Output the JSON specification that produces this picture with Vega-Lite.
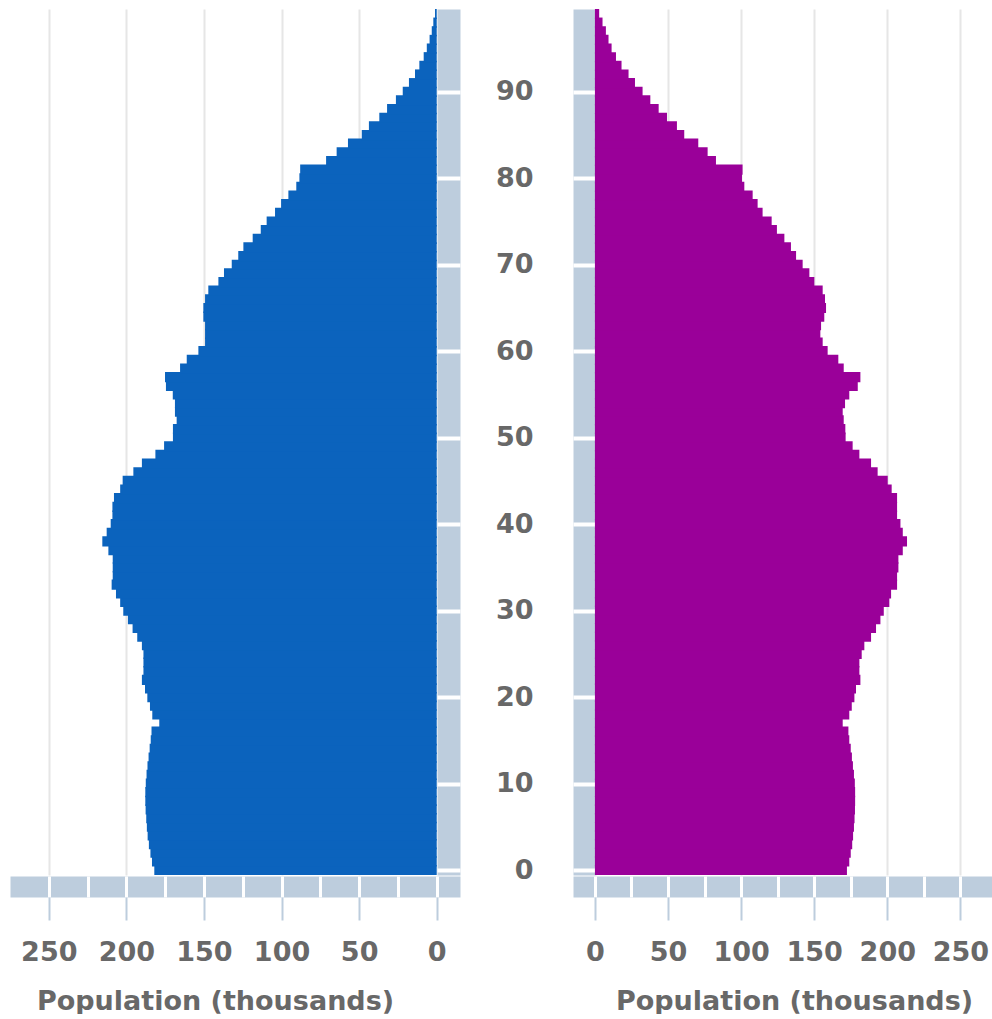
{
  "$schema": "https://vega.github.io/schema/vega-lite/v6.json",
  "padding": {"left": 10, "top": 9, "right": 0, "bottom": 0},
  "background": "white",
  "config": {
    "view": {"stroke": null},
    "font": "DejaVu Sans",
    "axis": {"labelFont": "DejaVu Sans", "titleFont": "DejaVu Sans"}
  },
  "datasets": {
    "pop": [
      {"age":0,"sex":"M","pop":182},{"age":1,"sex":"M","pop":183.5},{"age":2,"sex":"M","pop":184.5},{"age":3,"sex":"M","pop":185.5},{"age":4,"sex":"M","pop":186.3},{"age":5,"sex":"M","pop":186.8},{"age":6,"sex":"M","pop":187.2},{"age":7,"sex":"M","pop":187.6},{"age":8,"sex":"M","pop":187.8},{"age":9,"sex":"M","pop":187.8},
      {"age":10,"sex":"M","pop":187.5},{"age":11,"sex":"M","pop":187},{"age":12,"sex":"M","pop":186.4},{"age":13,"sex":"M","pop":185.7},{"age":14,"sex":"M","pop":185},{"age":15,"sex":"M","pop":184.3},{"age":16,"sex":"M","pop":183.8},{"age":17,"sex":"M","pop":178.8},{"age":18,"sex":"M","pop":183.3},{"age":19,"sex":"M","pop":184.8},
      {"age":20,"sex":"M","pop":186.5},{"age":21,"sex":"M","pop":188},{"age":22,"sex":"M","pop":190},{"age":23,"sex":"M","pop":189},{"age":24,"sex":"M","pop":189},{"age":25,"sex":"M","pop":189},{"age":26,"sex":"M","pop":190},{"age":27,"sex":"M","pop":193},{"age":28,"sex":"M","pop":196},{"age":29,"sex":"M","pop":199},
      {"age":30,"sex":"M","pop":202},{"age":31,"sex":"M","pop":204},{"age":32,"sex":"M","pop":206.7},{"age":33,"sex":"M","pop":209.5},{"age":34,"sex":"M","pop":208.8},{"age":35,"sex":"M","pop":208.8},{"age":36,"sex":"M","pop":208.8},{"age":37,"sex":"M","pop":211.6},{"age":38,"sex":"M","pop":215.5},{"age":39,"sex":"M","pop":212.7},
      {"age":40,"sex":"M","pop":210.1},{"age":41,"sex":"M","pop":209},{"age":42,"sex":"M","pop":209},{"age":43,"sex":"M","pop":208},{"age":44,"sex":"M","pop":204},{"age":45,"sex":"M","pop":202.4},{"age":46,"sex":"M","pop":195.5},{"age":47,"sex":"M","pop":190},{"age":48,"sex":"M","pop":181.3},{"age":49,"sex":"M","pop":175.7},
      {"age":50,"sex":"M","pop":170},{"age":51,"sex":"M","pop":170},{"age":52,"sex":"M","pop":167.6},{"age":53,"sex":"M","pop":168.7},{"age":54,"sex":"M","pop":168.7},{"age":55,"sex":"M","pop":170.1},{"age":56,"sex":"M","pop":174.5},{"age":57,"sex":"M","pop":175.1},{"age":58,"sex":"M","pop":165.4},{"age":59,"sex":"M","pop":161.1},
      {"age":60,"sex":"M","pop":153.6},{"age":61,"sex":"M","pop":149.3},{"age":62,"sex":"M","pop":149.3},{"age":63,"sex":"M","pop":149.3},{"age":64,"sex":"M","pop":150.4},{"age":65,"sex":"M","pop":150.4},{"age":66,"sex":"M","pop":149.3},{"age":67,"sex":"M","pop":147.2},{"age":68,"sex":"M","pop":140.7},{"age":69,"sex":"M","pop":137.1},
      {"age":70,"sex":"M","pop":132.1},{"age":71,"sex":"M","pop":127.9},{"age":72,"sex":"M","pop":124.6},{"age":73,"sex":"M","pop":118.6},{"age":74,"sex":"M","pop":113.4},{"age":75,"sex":"M","pop":109.6},{"age":76,"sex":"M","pop":104.2},{"age":77,"sex":"M","pop":100.3},{"age":78,"sex":"M","pop":95.6},{"age":79,"sex":"M","pop":90.5},
      {"age":80,"sex":"M","pop":88.5},{"age":81,"sex":"M","pop":88},{"age":82,"sex":"M","pop":71.3},{"age":83,"sex":"M","pop":64.5},{"age":84,"sex":"M","pop":57.2},{"age":85,"sex":"M","pop":48.3},{"age":86,"sex":"M","pop":43.7},{"age":87,"sex":"M","pop":37},{"age":88,"sex":"M","pop":32},{"age":89,"sex":"M","pop":26.3},
      {"age":90,"sex":"M","pop":21.9},{"age":91,"sex":"M","pop":17.9},{"age":92,"sex":"M","pop":14},{"age":93,"sex":"M","pop":11.2},{"age":94,"sex":"M","pop":8.4},{"age":95,"sex":"M","pop":6.4},{"age":96,"sex":"M","pop":4.6},{"age":97,"sex":"M","pop":3.2},{"age":98,"sex":"M","pop":2.2},{"age":99,"sex":"M","pop":1.1},
      {"age":0,"sex":"F","pop":172.4},{"age":1,"sex":"F","pop":174},{"age":2,"sex":"F","pop":175},{"age":3,"sex":"F","pop":176},{"age":4,"sex":"F","pop":176.6},{"age":5,"sex":"F","pop":177.2},{"age":6,"sex":"F","pop":177.6},{"age":7,"sex":"F","pop":177.9},{"age":8,"sex":"F","pop":178},{"age":9,"sex":"F","pop":178},
      {"age":10,"sex":"F","pop":177.8},{"age":11,"sex":"F","pop":177.2},{"age":12,"sex":"F","pop":176.5},{"age":13,"sex":"F","pop":175.8},{"age":14,"sex":"F","pop":175},{"age":15,"sex":"F","pop":174},{"age":16,"sex":"F","pop":173.4},{"age":17,"sex":"F","pop":169.5},{"age":18,"sex":"F","pop":174},{"age":19,"sex":"F","pop":175.7},
      {"age":20,"sex":"F","pop":177.5},{"age":21,"sex":"F","pop":178.6},{"age":22,"sex":"F","pop":181.6},{"age":23,"sex":"F","pop":180.9},{"age":24,"sex":"F","pop":180.9},{"age":25,"sex":"F","pop":182.5},{"age":26,"sex":"F","pop":184.3},{"age":27,"sex":"F","pop":188.9},{"age":28,"sex":"F","pop":192.3},{"age":29,"sex":"F","pop":195.3},
      {"age":30,"sex":"F","pop":197.6},{"age":31,"sex":"F","pop":201.4},{"age":32,"sex":"F","pop":202.6},{"age":33,"sex":"F","pop":206.7},{"age":34,"sex":"F","pop":206.7},{"age":35,"sex":"F","pop":207.6},{"age":36,"sex":"F","pop":207.6},{"age":37,"sex":"F","pop":210.6},{"age":38,"sex":"F","pop":213.5},{"age":39,"sex":"F","pop":210.6},
      {"age":40,"sex":"F","pop":209},{"age":41,"sex":"F","pop":206.7},{"age":42,"sex":"F","pop":206.7},{"age":43,"sex":"F","pop":206.7},{"age":44,"sex":"F","pop":203},{"age":45,"sex":"F","pop":200.3},{"age":46,"sex":"F","pop":193.4},{"age":47,"sex":"F","pop":188.9},{"age":48,"sex":"F","pop":180.9},{"age":49,"sex":"F","pop":176.3},
      {"age":50,"sex":"F","pop":171.5},{"age":51,"sex":"F","pop":171.3},{"age":52,"sex":"F","pop":170.2},{"age":53,"sex":"F","pop":169.5},{"age":54,"sex":"F","pop":171.1},{"age":55,"sex":"F","pop":174},{"age":56,"sex":"F","pop":179.8},{"age":57,"sex":"F","pop":181.6},{"age":58,"sex":"F","pop":170.2},{"age":59,"sex":"F","pop":166.5},
      {"age":60,"sex":"F","pop":159.2},{"age":61,"sex":"F","pop":155.8},{"age":62,"sex":"F","pop":154.2},{"age":63,"sex":"F","pop":154.7},{"age":64,"sex":"F","pop":156.9},{"age":65,"sex":"F","pop":158.1},{"age":66,"sex":"F","pop":157.4},{"age":67,"sex":"F","pop":155.8},{"age":68,"sex":"F","pop":150.1},{"age":69,"sex":"F","pop":146.7},
      {"age":70,"sex":"F","pop":142.1},{"age":71,"sex":"F","pop":137.6},{"age":72,"sex":"F","pop":134.1},{"age":73,"sex":"F","pop":129.6},{"age":74,"sex":"F","pop":124.5},{"age":75,"sex":"F","pop":120.9},{"age":76,"sex":"F","pop":114.7},{"age":77,"sex":"F","pop":111.3},{"age":78,"sex":"F","pop":107.9},{"age":79,"sex":"F","pop":102.2},
      {"age":80,"sex":"F","pop":100.6},{"age":81,"sex":"F","pop":101},{"age":82,"sex":"F","pop":82.8},{"age":83,"sex":"F","pop":77.1},{"age":84,"sex":"F","pop":70.7},{"age":85,"sex":"F","pop":61.1},{"age":86,"sex":"F","pop":56.1},{"age":87,"sex":"F","pop":49.3},{"age":88,"sex":"F","pop":43.6},{"age":89,"sex":"F","pop":37.9},
      {"age":90,"sex":"F","pop":32.6},{"age":91,"sex":"F","pop":27.4},{"age":92,"sex":"F","pop":23},{"age":93,"sex":"F","pop":18.2},{"age":94,"sex":"F","pop":14.4},{"age":95,"sex":"F","pop":11.4},{"age":96,"sex":"F","pop":9.3},{"age":97,"sex":"F","pop":7.5},{"age":98,"sex":"F","pop":5.2},{"age":99,"sex":"F","pop":2.9}
    ]
  },
  "spacing": 33,
  "hconcat": [
    {
      "width": 450,
      "height": 866,
      "data": {"name": "pop"},
      "transform": [{"filter": "datum.sex === 'M'"}],
      "resolve": {"axis": {"x": "independent", "y": "independent"}},
      "layer": [
        {
          "mark": {"type": "bar", "orient": "horizontal", "color": "#0b63bd", "size": 10.2, "clip": true},
          "encoding": {
            "x": {"field": "pop", "type": "quantitative",
              "scale": {"domain": [-15, 275], "reverse": true, "nice": false, "zero": false},
              "axis": {"orient": "bottom", "offset": 11.5, "domainWidth": 21, "domainColor": "#bdcddd", "domainCap": "butt", "ticks": false, "labels": false, "grid": true, "gridColor": "#e6e6e6", "gridWidth": 2, "values": [50, 100, 150, 200, 250], "title": null}},
            "y": {"field": "age", "type": "quantitative",
              "scale": {"domain": [0, 99], "nice": false, "zero": false},
              "axis": {"orient": "right", "offset": -11.5, "domainWidth": 23, "domainColor": "#bdcddd", "domainCap": "butt", "ticks": false, "labels": false, "grid": false, "title": null}}
          }
        },
        {
          "mark": {"type": "point", "opacity": 0},
          "encoding": {
            "x": {"field": "pop", "type": "quantitative",
              "axis": {"orient": "bottom", "offset": 1, "values": [0, 25, 50, 75, 100, 125, 150, 175, 200, 225, 250], "domain": false, "labels": false, "ticks": true, "tickColor": "#ffffff", "tickWidth": 3, "tickSize": 21, "grid": false, "title": null}},
            "y": {"field": "age", "type": "quantitative",
              "axis": {"orient": "right", "offset": -23, "values": [0, 10, 20, 30, 40, 50, 60, 70, 80, 90], "domain": false, "labels": false, "ticks": true, "tickColor": "#ffffff", "tickWidth": 4, "tickSize": 23, "grid": false, "title": null}}
          }
        },
        {
          "mark": {"type": "point", "opacity": 0},
          "encoding": {
            "x": {"field": "pop", "type": "quantitative",
              "axis": {"orient": "bottom", "offset": 22, "values": [0, 50, 100, 150, 200, 250], "domain": false, "ticks": true, "tickColor": "#bdcddd", "tickWidth": 2, "tickSize": 23, "grid": false,
                "labelPadding": 19, "labelFontSize": 27, "labelFontWeight": "bold", "labelColor": "#686868",
                "title": "Population (thousands)", "titleFontSize": 27, "titleFontWeight": "bold", "titleColor": "#686868", "titlePadding": 23, "titleX": 205}},
            "y": {"field": "age", "type": "quantitative", "axis": null}
          }
        }
      ]
    },
    {
      "width": 421,
      "height": 866,
      "data": {"name": "pop"},
      "transform": [{"filter": "datum.sex === 'F'"}],
      "resolve": {"axis": {"x": "independent", "y": "independent"}},
      "layer": [
        {
          "mark": {"type": "bar", "orient": "horizontal", "color": "#9a0099", "size": 10.2, "clip": true},
          "encoding": {
            "x": {"field": "pop", "type": "quantitative",
              "scale": {"domain": [-15, 273], "nice": false, "zero": false},
              "axis": {"orient": "bottom", "offset": 11.5, "domainWidth": 21, "domainColor": "#bdcddd", "domainCap": "butt", "ticks": false, "labels": false, "grid": true, "gridColor": "#e6e6e6", "gridWidth": 2, "values": [50, 100, 150, 200, 250], "title": null}},
            "y": {"field": "age", "type": "quantitative",
              "scale": {"domain": [0, 99], "nice": false, "zero": false},
              "axis": {"orient": "left", "offset": -11.5, "domainWidth": 23, "domainColor": "#bdcddd", "domainCap": "butt", "ticks": false, "labels": false, "grid": false, "title": null}}
          }
        },
        {
          "mark": {"type": "point", "opacity": 0},
          "encoding": {
            "x": {"field": "pop", "type": "quantitative",
              "axis": {"orient": "bottom", "offset": 1, "values": [0, 25, 50, 75, 100, 125, 150, 175, 200, 225, 250], "domain": false, "labels": false, "ticks": true, "tickColor": "#ffffff", "tickWidth": 3, "tickSize": 21, "grid": false, "title": null}},
            "y": {"field": "age", "type": "quantitative",
              "axis": {"orient": "left", "offset": -23, "values": [0, 10, 20, 30, 40, 50, 60, 70, 80, 90], "domain": false, "labels": false, "ticks": true, "tickColor": "#ffffff", "tickWidth": 4, "tickSize": 23, "grid": false, "title": null}}
          }
        },
        {
          "mark": {"type": "point", "opacity": 0},
          "encoding": {
            "x": {"field": "pop", "type": "quantitative",
              "axis": {"orient": "bottom", "offset": 22, "values": [0, 50, 100, 150, 200, 250], "domain": false, "ticks": true, "tickColor": "#bdcddd", "tickWidth": 2, "tickSize": 23, "grid": false,
                "labelPadding": 19, "labelFontSize": 27, "labelFontWeight": "bold", "labelColor": "#686868",
                "title": "Population (thousands)", "titleFontSize": 27, "titleFontWeight": "bold", "titleColor": "#686868", "titlePadding": 23, "titleX": 221}},
            "y": {"field": "age", "type": "quantitative",
              "axis": {"orient": "left", "offset": 0, "values": [0, 10, 20, 30, 40, 50, 60, 70, 80, 90], "domain": false, "ticks": false, "grid": false,
                "labelPadding": 40, "labelFontSize": 27, "labelFontWeight": "bold", "labelColor": "#686868", "title": null}}
          }
        }
      ]
    }
  ]
}
